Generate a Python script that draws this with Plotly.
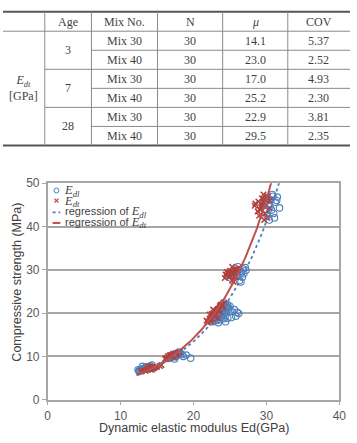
import numpy as np
import plotly.graph_objects as go

W, H = 357, 443

# ---------------- Table data ----------------
table_headers = ["", "Age", "Mix No.", "N", "<i>μ</i>", "COV"]
table_param = "<i>E</i><sub><i>dt</i></sub><br>[GPa]"
table_ages = ["3", "7", "28"]
table_mixes = ["Mix 30", "Mix 40", "Mix 30", "Mix 40", "Mix 30", "Mix 40"]
table_N = [30, 30, 30, 30, 30, 30]
table_mu = [14.1, 23.0, 17.0, 25.2, 22.9, 29.5]
table_cov = [5.37, 2.52, 4.93, 2.30, 3.81, 2.35]

# ---------------- Scatter data (per specimen) ----------------
# compressive strength (MPa)
fc_vals = [
    6.8, 7.0, 7.2, 6.9, 7.4, 7.1, 6.6, 7.6, 7.3, 7.8, 6.7, 7.5, 7.0, 7.7, 7.2, 6.9, 8.0, 7.3, 7.6, 6.5,
    10.2, 10.5, 9.8, 10.8, 10.0, 9.5, 10.6, 10.3, 9.9, 10.4, 10.1, 11.0, 9.7, 10.7, 10.0, 9.6, 10.3, 9.4, 10.6, 10.2,
    20.0, 21.0, 19.2, 22.0, 18.6, 20.6, 19.6, 21.6, 18.2, 20.3, 19.0, 21.3, 20.8, 18.8, 22.4, 19.8, 20.4, 18.0, 21.8, 19.4,
    29.0, 29.6, 28.4, 30.2, 28.8, 29.3, 30.5, 28.1, 29.8, 27.5, 29.1, 30.0, 28.6, 29.4, 27.2, 29.9, 28.9, 30.7, 28.3, 29.5,
    19.5, 20.4, 18.5, 21.2, 19.0, 20.0, 17.8, 21.6, 18.9, 20.8, 19.9, 18.3, 21.0, 19.3, 20.5, 18.0, 21.9, 19.7, 20.2, 18.7,
    45.0, 46.2, 44.0, 47.0, 43.5, 45.6, 44.6, 46.8, 42.5, 45.3, 43.0, 46.5, 44.3, 41.5, 45.8, 47.4, 42.0, 44.8, 46.0, 43.8,
]
# dynamic elastic modulus E_dt (GPa)
edt_vals = [
    13.2, 13.6, 14.0, 14.3, 14.6, 13.9, 12.9, 15.0, 14.2, 15.4, 13.4, 14.8, 14.1, 13.8, 14.5, 13.7, 15.6, 14.4, 14.0, 12.8,
    17.0, 17.4, 16.6, 17.8, 16.9, 16.2, 17.2, 16.8, 17.1, 17.6, 16.5, 18.1, 16.3, 17.5, 17.3, 16.7, 17.0, 16.1, 17.7, 16.8,
    23.0, 23.4, 22.6, 23.8, 22.4, 23.2, 22.8, 23.6, 22.2, 23.1, 22.9, 24.0, 22.7, 23.3, 24.2, 22.5, 23.5, 21.9, 23.7, 22.9,
    25.2, 25.6, 24.8, 25.9, 24.5, 25.4, 26.2, 24.3, 25.0, 25.3, 24.7, 25.7, 25.1, 24.9, 25.5, 26.0, 24.4, 25.3, 25.8, 24.6,
    22.8, 23.2, 22.3, 23.6, 22.6, 23.0, 22.0, 23.9, 22.5, 23.3, 22.7, 21.8, 23.5, 23.1, 22.9, 22.4, 24.0, 22.2, 23.7, 22.6,
    29.5, 29.9, 29.1, 30.2, 28.8, 29.6, 29.3, 30.0, 29.0, 28.5, 29.8, 29.4, 30.4, 29.7, 28.9, 29.6, 30.1, 28.4, 30.5, 29.2,
]
# dynamic elastic modulus E_dl (GPa)
edl_vals = [
    12.6, 12.9, 13.1, 12.8, 13.4, 13.0, 12.5, 13.8, 13.3, 14.1, 12.7, 13.6, 13.2, 13.0, 13.5, 12.4, 14.3, 13.7, 13.9, 12.6,
    17.3, 17.8, 17.0, 18.2, 17.5, 16.6, 17.9, 17.2, 17.6, 18.4, 16.9, 18.0, 16.8, 17.7, 18.6, 19.6, 19.0, 17.4, 18.1, 17.1,
    23.6, 24.0, 23.2, 24.4, 23.0, 24.2, 23.8, 23.9, 22.8, 25.3, 23.5, 24.6, 23.3, 24.7, 24.1, 23.1, 25.0, 22.6, 24.3, 23.7,
    26.0, 26.4, 25.6, 26.8, 25.4, 26.6, 27.1, 25.1, 25.8, 26.3, 26.9, 26.2, 25.9, 25.7, 26.5, 27.2, 25.3, 26.1, 26.7, 25.5,
    24.0, 24.5, 23.6, 24.8, 25.2, 24.3, 23.4, 25.0, 24.1, 25.6, 26.2, 23.2, 24.6, 25.8, 23.9, 24.4, 24.7, 23.5, 26.0, 24.2,
    30.3, 30.6, 30.0, 30.9, 29.8, 31.2, 30.5, 31.5, 30.1, 29.6, 31.0, 30.2, 31.8, 30.4, 29.9, 30.8, 31.1, 29.5, 31.4, 30.7,
]

# exponential regressions  fc = a * exp(b * Ed)
reg_Edl = (1.43, 0.112)
reg_Edt = (1.34, 0.118)
reg_x_range = (12.2, 32.0)

x_ticks = [0, 10, 20, 30, 40]
y_ticks = [0, 10, 20, 30, 40, 50]

legend_labels = [
    "<i>E</i><sub><i>dl</i></sub>",
    "<i>E</i><sub><i>dt</i></sub>",
    "regression of <i>E</i><sub><i>dl</i></sub>",
    "regression of <i>E</i><sub><i>dt</i></sub>",
]

BLUE = "#4F81BD"
RED = "#C0504D"
TXT = "#3f3f3f"


def px(x):
    return x / W


def py(y):
    return 1 - y / H


fig = go.Figure()

fig.add_trace(go.Scatter(
    x=edl_vals, y=fc_vals, mode="markers", name="E_dl",
    marker=dict(symbol="circle-open", size=6.5, color=BLUE, line=dict(width=1.1, color=BLUE)),
))
fig.add_trace(go.Scatter(
    x=edt_vals, y=fc_vals, mode="markers", name="E_dt",
    marker=dict(symbol="x-thin-open", size=5.5, color="#B0403D", line=dict(width=1.5, color="#B0403D")),
))

xs = np.linspace(reg_x_range[0], reg_x_range[1], 200)
fig.add_trace(go.Scatter(
    x=xs, y=reg_Edl[0] * np.exp(reg_Edl[1] * xs), mode="lines",
    line=dict(color=BLUE, width=1.8, dash="dot"), name="regression of E_dl",
))
fig.add_trace(go.Scatter(
    x=xs, y=reg_Edt[0] * np.exp(reg_Edt[1] * xs), mode="lines",
    line=dict(color=RED, width=2), name="regression of E_dt",
))

shapes = []
annotations = []

# ---------------- Table ----------------
col_edges = [0, 43, 91, 159, 226, 293, 357]
t_top, t_head, t_bot = 5, 25, 143
n_rows = len(table_mu)
row_h = (t_bot - t_head) / n_rows
LINE = "#8a8a8a"


def hline(x0, x1, y, color=LINE, width=1):
    shapes.append(dict(type="line", xref="paper", yref="paper",
                       x0=px(x0), x1=px(x1), y0=py(y), y1=py(y),
                       line=dict(color=color, width=width)))


def vline(x, y0, y1, color=LINE, width=1):
    shapes.append(dict(type="line", xref="paper", yref="paper",
                       x0=px(x), x1=px(x), y0=py(y0), y1=py(y1),
                       line=dict(color=color, width=width)))


def text(x, y, s, size=12, family="Liberation Serif", color=TXT, xanchor="center",
         yanchor="middle", angle=0, align="center"):
    annotations.append(dict(x=px(x), y=py(y), xref="paper", yref="paper", text=s,
                            showarrow=False, xanchor=xanchor, yanchor=yanchor,
                            textangle=angle, borderpad=0, align=align,
                            font=dict(family=family, size=size, color=color)))


hline(0, W, t_top, color="#555555", width=2)
hline(0, W, t_head)
hline(0, W, t_bot, color="#555555", width=2)
for i in range(1, n_rows):
    y = t_head + i * row_h
    if i % 2 == 0:
        hline(col_edges[1], W, y)
    else:
        hline(col_edges[2], W, y)
for xe in col_edges[1:-1]:
    vline(xe, t_top, t_bot)

for j, h in enumerate(table_headers):
    if h:
        text((col_edges[j] + col_edges[j + 1]) / 2, (t_top + t_head) / 2 + 0.5, h)

text((col_edges[0] + col_edges[1]) / 2, (t_head + t_bot) / 2, table_param)
for k, age in enumerate(table_ages):
    text((col_edges[1] + col_edges[2]) / 2, t_head + (2 * k + 1) * row_h, age)
for i in range(n_rows):
    yc = t_head + (i + 0.5) * row_h
    vals = [table_mixes[i], str(table_N[i]), f"{table_mu[i]:.1f}", f"{table_cov[i]:.2f}"]
    for j, v in enumerate(vals):
        text((col_edges[j + 2] + col_edges[j + 3]) / 2, yc, v)

# ---------------- Chart ----------------
plot_l, plot_r, plot_t, plot_b = 46, 346, 182, 405.5

# legend symbols (drawn manually)
lx = 55
shapes.append(dict(type="circle", xref="paper", yref="paper",
                   x0=px(lx - 2.5), x1=px(lx + 2.5), y0=py(189.5 - 2.5), y1=py(189.5 + 2.5),
                   line=dict(color=BLUE, width=1)))
for dx in (-1, 1):
    shapes.append(dict(type="line", xref="paper", yref="paper",
                       x0=px(lx - 2), x1=px(lx + 2), y0=py(200 - 2 * dx), y1=py(200 + 2 * dx),
                       line=dict(color=RED, width=1.3)))
shapes.append(dict(type="line", xref="paper", yref="paper",
                   x0=px(51), x1=px(59), y0=py(212), y1=py(212),
                   line=dict(color=BLUE, width=1.8, dash="dot")))
shapes.append(dict(type="line", xref="paper", yref="paper",
                   x0=px(51), x1=px(59), y0=py(223), y1=py(223),
                   line=dict(color=RED, width=2)))

# legend labels: one text block, tight line spacing from a small base size
SERIF = "font-family:Liberation Serif;font-size:12.5px"
SANS = "font-family:Liberation Sans;font-size:11px"
leg_lines = []
for lab in legend_labels:
    if lab.startswith("regression of "):
        rest = lab[len("regression of "):]
        leg_lines.append(f"<span style='{SANS}'>regression of </span><span style='{SERIF}'>{rest}</span>")
    else:
        leg_lines.append(f"<span style='{SERIF}'>{lab}</span>")
text(62, 206.5, "<br>".join(leg_lines), size=8.1, family="Liberation Sans",
     xanchor="left", align="left")

# axis titles
text(14, 284, "Compressive strength (MPa)", size=12.5, family="Liberation Sans",
     color="#404040", angle=-90)
text((plot_l + plot_r) / 2, 435, "Dynamic elastic modulus Ed(GPa)", size=12.5,
     family="Liberation Sans", color="#404040")

AX = "#A6A6A6"
fig.update_layout(
    width=W, height=H,
    margin=dict(l=0, r=0, t=0, b=0),
    paper_bgcolor="white", plot_bgcolor="white",
    showlegend=False,
    shapes=shapes, annotations=annotations,
    xaxis=dict(domain=[px(plot_l), px(plot_r)], range=[0, 40], tickvals=x_ticks,
               showgrid=False, zeroline=False, showline=True, mirror=True,
               linecolor=AX, linewidth=1.5, ticks="outside", ticklen=4, tickcolor=AX,
               tickfont=dict(family="Liberation Sans", size=12, color="#595959")),
    yaxis=dict(domain=[py(plot_b), py(plot_t)], range=[0, 50], tickvals=y_ticks,
               showgrid=True, gridcolor=AX, gridwidth=1.5, zeroline=False,
               showline=True, mirror=True, linecolor=AX, linewidth=1.5,
               ticks="outside", ticklen=4, tickcolor=AX,
               tickfont=dict(family="Liberation Sans", size=12, color="#595959")),
)

fig.write_html("out.html")
